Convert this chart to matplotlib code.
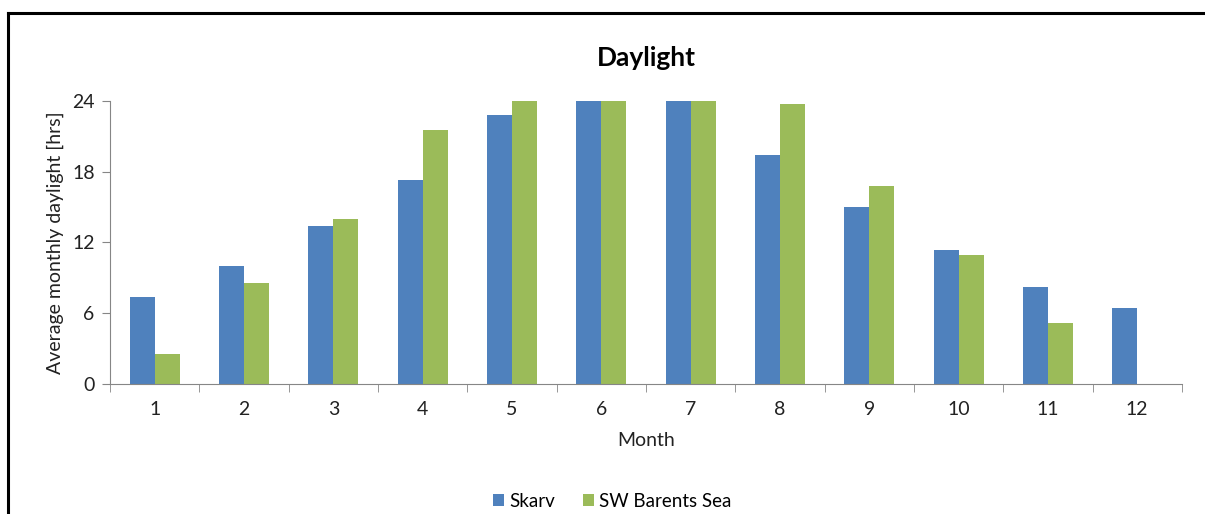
import numpy as np
import matplotlib.pyplot as plt
from matplotlib.lines import Line2D

months = ['1', '2', '3', '4', '5', '6', '7', '8', '9', '10', '11', '12']
skarv = [7.35, 10.0, 13.4, 17.3, 22.8, 24, 24, 19.4, 15.0, 11.4, 8.25, 6.45]
barents = [2.5, 8.6, 14.0, 21.5, 24, 24, 24, 23.75, 16.8, 10.9, 5.2, 0]

blue = '#4F81BD'
green = '#9BBB59'
axis_grey = '#868686'

plt.rcParams['font.family'] = ['Lato', 'DejaVu Sans']

fig = plt.figure(figsize=(12.05, 5.14), dpi=100)
ax = fig.add_axes([0.0913, 0.253, 0.8895, 0.5505])

x = np.arange(1, len(months) + 1)
w = 0.28
ax.bar(x - w / 2, skarv, w, color=blue, label='Skarv')
ax.bar(x + w / 2, barents, w, color=green, label='SW Barents Sea')

ax.set_xlim(0.5, 12.5)
ax.set_ylim(0, 24)
ax.set_yticks([0, 6, 12, 18, 24])
ax.set_xticks(x)
ax.set_xticklabels(months)
ax.set_xticks(np.arange(0.5, 13.0, 1.0), minor=True)
ax.tick_params(axis='x', which='major', length=0, pad=12, labelsize=14, colors='#222222')
ax.tick_params(axis='x', which='minor', length=6, color=axis_grey, direction='out')
ax.tick_params(axis='y', length=6, color=axis_grey, labelsize=14, pad=5, labelcolor='#222222')

for s in ['top', 'right']:
    ax.spines[s].set_visible(False)
for s in ['left', 'bottom']:
    ax.spines[s].set_color(axis_grey)

ax.set_xlabel('Month', fontsize=14, labelpad=10, color='#222222')
ax.set_ylabel('Average monthly daylight [hrs]', fontsize=14, labelpad=6, color='#222222')
ax.set_title('Daylight', fontsize=19, fontweight='bold', pad=25)

fig.legend(*ax.get_legend_handles_labels(), loc='center', bbox_to_anchor=(0.508, 0.025),
           ncol=2, frameon=False, fontsize=13.5, handlelength=0.6, handleheight=0.6,
           handletextpad=0.25, columnspacing=1.5, borderpad=0)

# frame around the chart area (left and top edges visible)
fig.add_artist(Line2D([8 / 1205, 8 / 1205], [0, 1 - 13 / 514], color='black', lw=2.2))
fig.add_artist(Line2D([8 / 1205, 1], [1 - 13 / 514, 1 - 13 / 514], color='black', lw=2.2))

fig.savefig('out.png', dpi=100)
